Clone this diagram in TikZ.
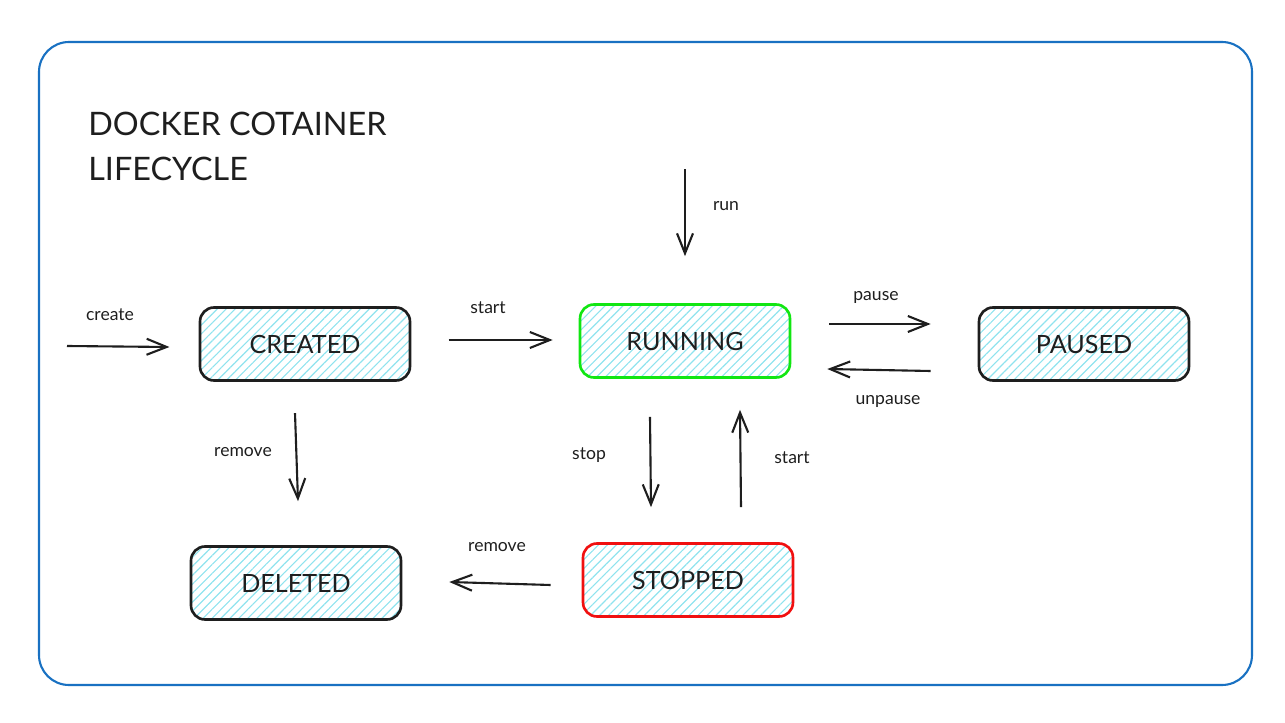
\documentclass[tikz,border=0pt]{standalone}
\usepackage{fontspec}
\setmainfont{Lato}
\usepackage{xcolor}
\usetikzlibrary{positioning, arrows.meta, calc, patterns.meta}

\definecolor{frameblue}{HTML}{1971C2}
\definecolor{ink}{HTML}{1E1E1E}
\definecolor{hatch}{HTML}{8FE3EE}
\definecolor{runcol}{HTML}{12E612}
\definecolor{stopcol}{HTML}{F01010}

\tikzset{
  state/.style={draw=ink, line width=1.5pt, rounded corners=0.28cm,
    minimum width=4.2cm, minimum height=1.46cm,
    pattern={Lines[angle=45, distance=3.6pt, line width=0.65pt]},
    pattern color=hatch, text=ink, text height=1.12em, text depth=0pt,
    font=\fontsize{14.3}{16}\selectfont},
  arr/.style={line width=1.2pt, draw=ink, -{Straight Barb[length=0.4cm, width=0.32cm, line width=1.2pt]}},
  lbl/.style={font=\fontsize{10}{12}\selectfont, text=ink, anchor=base, inner sep=0pt}
}

\begin{document}
\begin{tikzpicture}[x=0.02cm, y=-0.02cm]
\useasboundingbox (0,0) rectangle (1285,723);

% outer frame
\draw[frameblue, line width=1.2pt, rounded corners=0.6cm] (39,42) rectangle (1252,685);

% title
\node[anchor=base west, text=ink, align=left, inner sep=0pt,
      font=\fontsize{18.4}{25.5}\selectfont] (title) at (88,180)
      {DOCKER COTAINER\\LIFECYCLE};

% states
\node[state] (created) at (305,344) {CREATED};
\node[state, draw=runcol] (running) at (685,341) {RUNNING};
\node[state] (paused) at (1084,344) {PAUSED};
\node[state] (deleted) at (296,583) {DELETED};
\node[state, draw=stopcol] (stopped) at (688,580) {STOPPED};

% free ends
\coordinate (createin) at (67,346);
\coordinate (runin) at (685,169);

% transitions
\draw[arr] (createin) -- ($(created.west)+(-30,3)$);
\draw[arr] ($(created.east)+(38,-4)$) -- ($(running.west)+(-26,-1)$);
\draw[arr] (runin) -- ($(running.north)+(0,-47)$);
\draw[arr] ($(running.east)+(38,-17)$) -- ($(paused.west)+(-47,-20)$);
\draw[arr] ($(paused.west)+(-47,27)$) -- ($(running.east)+(36,28)$);
\draw[arr] ($(created.south)+(-10,32)$) -- ($(deleted.north)+(2,-44)$);
\draw[arr] ($(running.south)+(-35,38)$) -- ($(stopped.north)+(-37,-35)$);
\draw[arr] ($(stopped.north)+(53,-35)$) -- ($(running.south)+(55,31)$);
\draw[arr] ($(stopped.west)+(-31,5)$) -- ($(deleted.east)+(47,-1)$);

% labels
\foreach \x/\y/\name/\txt in {110/320/lcreate/create, 488/313/lstart/start,
  726/210/lrun/run, 876/300/lpause/pause, 888/404/lunpause/unpause,
  243/456/lremove/remove, 589/459/lstop/stop, 792/463/lrestart/start,
  497/551/lremovestop/remove}
\node[lbl] (\name) at (\x,\y) {\txt};
\end{tikzpicture}
\end{document}
